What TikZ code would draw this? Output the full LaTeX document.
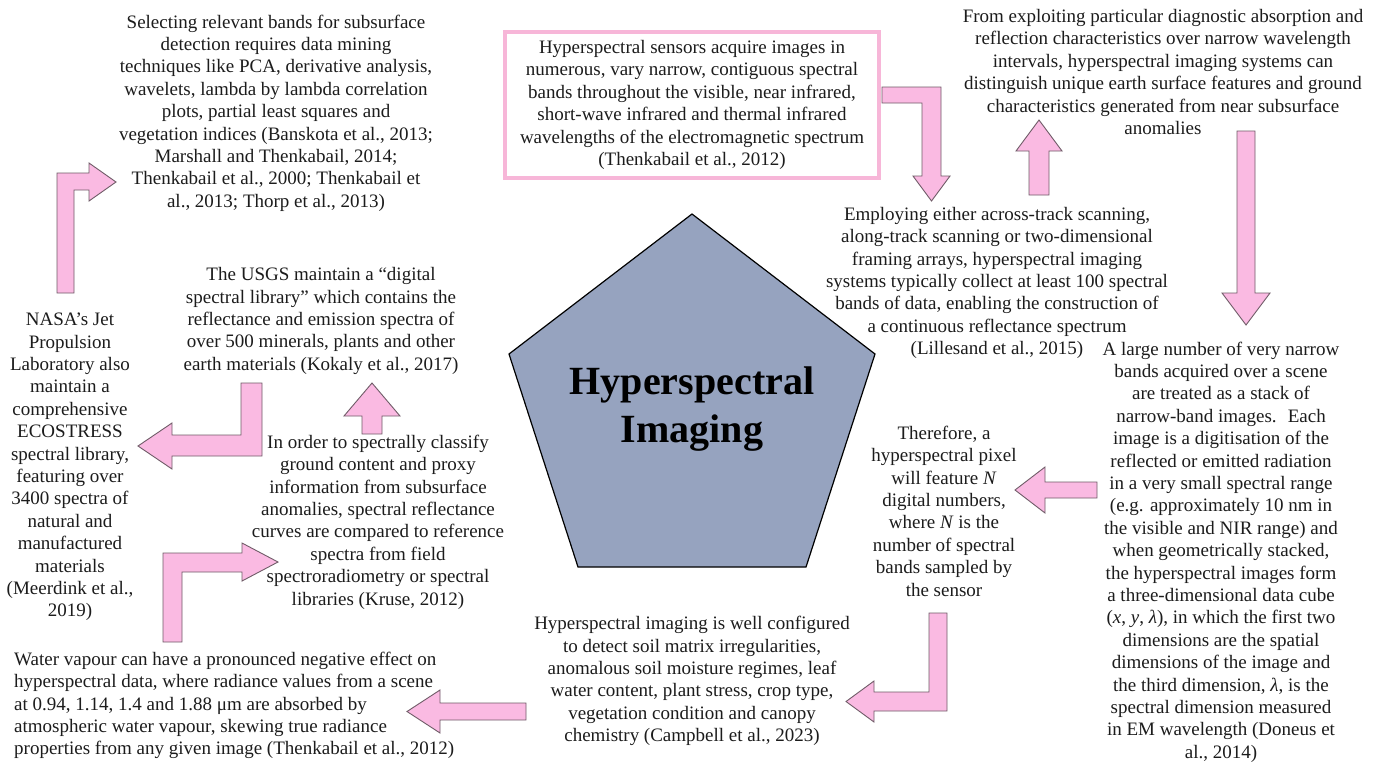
\documentclass[tikz,border=0pt]{standalone}
\usepackage{fontspec}
\setmainfont{Liberation Serif}
\definecolor{arrowpink}{RGB}{250,186,226}
\definecolor{arrowedge}{RGB}{112,92,104}
\definecolor{framepink}{RGB}{247,182,216}
\definecolor{hubfill}{RGB}{150,163,191}
\definecolor{ink}{RGB}{28,28,28}

\begin{document}
\begin{tikzpicture}[x=1pt,y=-1pt,
  blurb/.style={align=center, inner sep=0pt, text=ink,
    font=\fontsize{19}{22.4}\selectfont},
  barrow/.style={fill=arrowpink, draw=arrowedge, line width=0.9pt, line join=miter},
]
\useasboundingbox (0,0) rectangle (1386,764);
\fill[white] (0,0) rectangle (1386,764);

% central pentagon and title
\draw[fill=hubfill, draw=black, line width=1.2pt, line join=miter]
  (692,214) -- (875,354) -- (806,567) -- (578,567) -- (509,354) -- cycle;
\node[inner sep=0pt, text=black, align=center,
  font=\fontsize{40}{48}\selectfont\bfseries] (hub) at (692,409)
  {Hyperspectral\\Imaging};

% text blocks
\node[blurb] (bands) at (276,113) {Selecting relevant bands for subsurface\\
detection requires data mining\\
techniques like PCA, derivative analysis,\\
wavelets, lambda by lambda correlation\\
plots, partial least squares and\\
vegetation indices (Banskota et al., 2013;\\
Marshall and Thenkabail, 2014;\\
Thenkabail et al., 2000; Thenkabail et\\
al., 2013; Thorp et al., 2013)};

\node[blurb, draw=framepink, line width=4pt, minimum width=374pt,
  minimum height=146pt] (sensors) at (692,105)
{Hyperspectral sensors acquire images in\\
numerous, vary narrow, contiguous spectral\\
bands throughout the visible, near infrared,\\
short-wave infrared and thermal infrared\\
wavelengths of the electromagnetic spectrum\\
(Thenkabail et al., 2012)};

\node[blurb] (diagnostic) at (1163,72)
{From exploiting particular diagnostic absorption and\\
reflection characteristics over narrow wavelength\\
intervals, hyperspectral imaging systems can\\
distinguish unique earth surface features and ground\\
characteristics generated from near subsurface\\
anomalies};

\node[blurb] (scanning) at (997,283)
{Employing either across-track scanning,\\
along-track scanning or two-dimensional\\
framing arrays, hyperspectral imaging\\
systems typically collect at least 100 spectral\\
bands of data, enabling the construction of\\
a continuous reflectance spectrum\\
(Lillesand et al., 2015)};

\node[blurb] (cube) at (1221,552)
{A large number of very narrow\\
bands acquired over a scene\\
are treated as a stack of\\
narrow-band images.~ Each\\
image is a digitisation of the\\
reflected or emitted radiation\\
in a very small spectral range\\
(e.g. approximately 10 nm in\\
the visible and NIR range) and\\
when geometrically stacked,\\
the hyperspectral images form\\
a three-dimensional data cube\\
(\textit{x}, \textit{y}, \textit{λ}), in which the first two\\
dimensions are the spatial\\
dimensions of the image and\\
the third dimension, \textit{λ}, is the\\
spectral dimension measured\\
in EM wavelength (Doneus et\\
al., 2014)};

\node[blurb] (pixel) at (944,511)
{Therefore, a\\
hyperspectral pixel\\
will feature \textit{N}\\
digital numbers,\\
where \textit{N} is the\\
number of spectral\\
bands sampled by\\
the sensor};

\node[blurb] (soil) at (692,681)
{Hyperspectral imaging is well configured\\
to detect soil matrix irregularities,\\
anomalous soil moisture regimes, leaf\\
water content, plant stress, crop type,\\
vegetation condition and canopy\\
chemistry (Campbell et al., 2023)};

\node[blurb, align=left, anchor=west] (vapour) at (14,705.5)
{Water vapour can have a pronounced negative effect on\\
hyperspectral data, where radiance values from a scene\\
at 0.94, 1.14, 1.4 and 1.88 μm are absorbed by\\
atmospheric water vapour, skewing true radiance\\
properties from any given image (Thenkabail et al., 2012)};

\node[blurb] (usgs) at (321,321)
{The USGS maintain a “digital\\
spectral library” which contains the\\
reflectance and emission spectra of\\
over 500 minerals, plants and other\\
earth materials (Kokaly et al., 2017)};

\node[blurb] (nasa) at (70,467)
{NASA’s Jet\\
Propulsion\\
Laboratory also\\
maintain a\\
comprehensive\\
ECOSTRESS\\
spectral library,\\
featuring over\\
3400 spectra of\\
natural and\\
manufactured\\
materials\\
(Meerdink et al.,\\
2019)};

\node[blurb] (classify) at (378,522)
{In order to spectrally classify\\
ground content and proxy\\
information from subsurface\\
anomalies, spectral reflectance\\
curves are compared to reference\\
spectra from field\\
spectroradiometry or spectral\\
libraries (Kruse, 2012)};

% block arrows
% sensors -> scanning (right, then down)
\draw[barrow] (882,87) -- (941,87) -- (941,176) -- (950,176) -- (931.5,201)
  -- (913,176) -- (922,176) -- (922,103) -- (882,103) -- cycle;
% scanning -> diagnostic (up)
\draw[barrow] (1029,195) -- (1029,151) -- (1016,151) -- (1039,120) -- (1062,151)
  -- (1049,151) -- (1049,195) -- cycle;
% diagnostic -> cube (down)
\draw[barrow] (1237,131) -- (1255,131) -- (1255,293) -- (1270,293) -- (1246,325)
  -- (1222,293) -- (1237,293) -- cycle;
% cube -> pixel (left)
\draw[barrow] (1097,482) -- (1045,482) -- (1045,467) -- (1015,490) -- (1045,513)
  -- (1045,498) -- (1097,498) -- cycle;
% pixel -> soil (down, then left)
\draw[barrow] (929,613) -- (947,613) -- (947,711) -- (874,711) -- (874,722)
  -- (846,701.5) -- (874,681) -- (874,692) -- (929,692) -- cycle;
% soil -> vapour (left)
\draw[barrow] (526,703) -- (440,703) -- (440,690) -- (407,711.5) -- (440,733)
  -- (440,720) -- (526,720) -- cycle;
% vapour -> classify (up, then right)
\draw[barrow] (163,642) -- (163,553) -- (242,553) -- (242,543) -- (278,562)
  -- (242,581) -- (242,572) -- (182,572) -- (182,642) -- cycle;
% classify -> usgs (up)
\draw[barrow] (362,434) -- (362,416) -- (344,416) -- (372,383) -- (400,416)
  -- (382,416) -- (382,434) -- cycle;
% usgs -> nasa (down, then left)
\draw[barrow] (241,383) -- (262,383) -- (262,456) -- (172,456) -- (172,469)
  -- (138,446) -- (172,423) -- (172,435) -- (241,435) -- cycle;
% nasa -> bands (up, then right)
\draw[barrow] (57,293) -- (57,173) -- (89,173) -- (89,163) -- (116,182)
  -- (89,201) -- (89,190) -- (74,190) -- (74,293) -- cycle;
\end{tikzpicture}
\end{document}
